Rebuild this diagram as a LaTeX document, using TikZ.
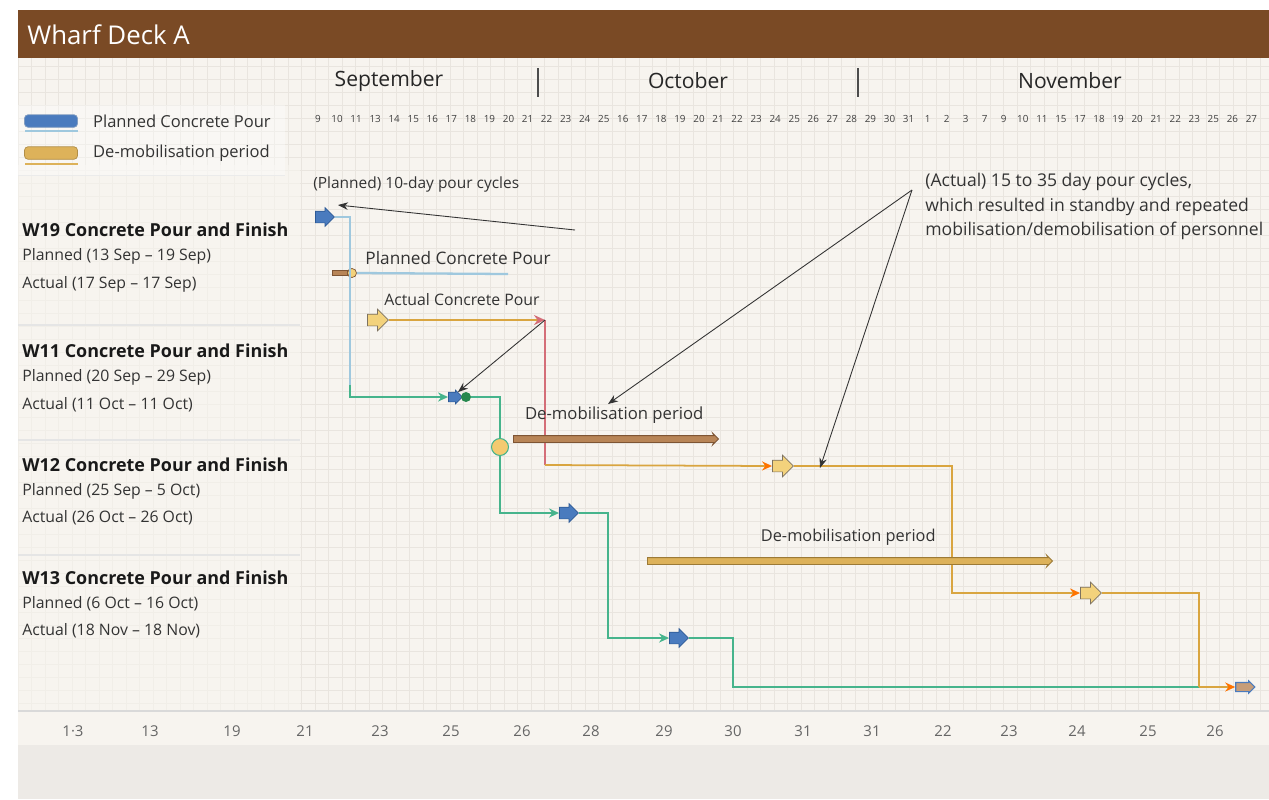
\documentclass[tikz,border=0pt]{standalone}
\usepackage{fontspec}
\setmainfont{Open Sans}
\usetikzlibrary{positioning,shapes.arrows,arrows.meta}

\definecolor{deckbrown}{HTML}{7A4A25}
\definecolor{paper}{HTML}{F7F4EF}
\definecolor{gridc}{HTML}{E9E5DF}
\definecolor{footc}{HTML}{EDEAE6}
\definecolor{planblue}{HTML}{4A7BBE}
\definecolor{planedge}{HTML}{2D5A96}
\definecolor{lightblue}{HTML}{9FC8DE}
\definecolor{tealc}{HTML}{46B48C}
\definecolor{goldc}{HTML}{D9A540}
\definecolor{actyellow}{HTML}{F3D27C}
\definecolor{actedge}{HTML}{7D7260}
\definecolor{redc}{HTML}{D46E78}
\definecolor{brownbar}{HTML}{B88557}
\definecolor{brownedge}{HTML}{7E5534}
\definecolor{goldbar}{HTML}{DDB25A}
\definecolor{goldedge}{HTML}{9C7A36}
\definecolor{textgrey}{HTML}{333333}

\begin{document}
\begin{tikzpicture}[x=0.02cm,y=-0.02cm,
  every node/.style={inner sep=0pt},
  bodytxt/.style={font=\fontsize{9}{11}\selectfont, text=textgrey},
  rowhead/.style={font=\bfseries\fontsize{10.2}{12}\selectfont, text=black!90, anchor=west},
  rowtxt/.style={bodytxt, anchor=west},
  legtxt/.style={rowtxt, font=\fontsize{9.4}{11}\selectfont},
  monthtxt/.style={font=\fontsize{12}{14}\selectfont, text=black!85},
  daynum/.style={font=\fontsize{5.6}{6}\selectfont, text=black!75},
  axisnum/.style={font=\fontsize{8.5}{10}\selectfont, text=black!60},
  planpour/.style={single arrow, draw=planedge, fill=planblue, line width=0.4pt,
    inner xsep=0pt, inner ysep=1.1mm, minimum height=3.8mm, single arrow head extend=0.7mm},
  actpour/.style={planpour, draw=actedge, fill=actyellow, minimum height=4.2mm, single arrow head extend=1mm},
  demobar/.style={single arrow, line width=0.5pt, inner ysep=0.6mm, inner xsep=0pt,
    single arrow head extend=0.45mm, single arrow head indent=0.2mm},
  blueline/.style={draw=lightblue, line width=1.3pt},
  tealline/.style={draw=tealc, line width=1.2pt},
  goldline/.style={draw=goldc, line width=1.2pt},
  callout/.style={draw=black!80, line width=0.5pt, -{Stealth[length=2mm,width=1.5mm]}}
]
\useasboundingbox (0,0) rectangle (1269,799);
\fill[white] (0,0) rectangle (1269,799);
\fill[paper] (18,10) rectangle (1269,745);
\fill[footc] (18,745) rectangle (1269,799);
% faint grid
\foreach \gx in {18,31.5,...,1269} \draw[gridc, line width=0.3pt] (\gx,58) -- (\gx,711);
\foreach \gy in {66,79,...,711} \draw[gridc, line width=0.3pt] (18,\gy) -- (1269,\gy);
\fill[paper, opacity=0.6] (18,165) rectangle (300,711);

% title bar and months
\fill[deckbrown] (18,10) rectangle (1269,58);
\node[anchor=west, text=white, font=\fontsize{14.7}{17}\selectfont] (title) at (27,35) {Wharf Deck A};
\node[monthtxt] (sept) at (389,81) {September};
\node[monthtxt] (oct) at (688,81) {October};
\node[monthtxt] (nov) at (1070,81) {November};
\draw[black!70, line width=0.8pt] (538,68) -- (538,97) (858,68) -- (858,97);
\foreach \d [count=\i from 0] in {9,10,11,13,14,15,16,17,18,19,20,21,22,23,24,25,16,17,18,19,20,21,22,23,24,25,26,27,28,29,30,31,1,2,3,7,9,10,11,15,17,18,19,20,21,22,23,25,26,27}
  \node[daynum] at (318+\i*19.05,119) {\d};

% legend
\fill[white, opacity=0.35] (18,105) rectangle (285,175);
\draw[black!8, line width=0.4pt] (18,175) -- (285,175);
\node[rounded corners=2pt, fill=planblue, draw=planedge!60, minimum width=10.6mm, minimum height=2.5mm] (legplan) at (51,121) {};
\draw[lightblue, line width=0.6pt] (25,131) -- (78,131);
\node[legtxt, right=3mm of legplan] (legplant) {Planned Concrete Pour};
\node[rounded corners=2pt, fill=goldbar, draw=goldbar!80!black, minimum width=10.6mm, minimum height=2.5mm] (legdemob) at (51,153) {};
\draw[goldbar, line width=0.6pt] (25,164) -- (78,164);
\node[legtxt, right=3mm of legdemob] (legdemobt) {De-mobilisation period};

% row labels
\node[rowhead] (w19) at (22,230) {W19 Concrete Pour and Finish};
\node[rowtxt] at (22,256) {Planned (13 Sep – 19 Sep)};
\node[rowtxt] at (22,284) {Actual (17 Sep – 17 Sep)};
\node[rowhead] (w11) at (22,351) {W11 Concrete Pour and Finish};
\node[rowtxt] at (22,377) {Planned (20 Sep – 29 Sep)};
\node[rowtxt] at (22,405) {Actual (11 Oct – 11 Oct)};
\node[rowhead] (w12) at (22,465) {W12 Concrete Pour and Finish};
\node[rowtxt] at (22,491) {Planned (25 Sep – 5 Oct)};
\node[rowtxt] at (22,518) {Actual (26 Oct – 26 Oct)};
\node[rowhead] (w13) at (22,578) {W13 Concrete Pour and Finish};
\node[rowtxt] at (22,604) {Planned (6 Oct – 16 Oct)};
\node[rowtxt] at (22,631) {Actual (18 Nov – 18 Nov)};
\draw[black!10, line width=0.6pt] (18,325) -- (300,325) (18,440) -- (300,440) (18,555) -- (300,555);
\draw[black!15, line width=0.6pt] (18,711) -- (1269,711);

% bottom axis
\foreach \lab/\ax in {1·3/73,13/150,19/232,21/305,23/380,25/451,26/522,28/591,29/664,30/733,31/803,31/872,22/943,23/1009,24/1077,25/1148,26/1215}
  \node[axisnum] at (\ax,731) {\lab};

% planned chain
\node[planpour] (w19p) at (322,217) {};
\node[fill=brownbar, draw=brownedge, line width=0.3pt, minimum width=3mm, minimum height=1.1mm] (w19b) at (340,273) {};
\node[circle, fill=actyellow, draw=brownedge, line width=0.4pt, minimum size=1.8mm] (w19c) at (352,273) {};
\coordinate (pend) at (508,274);
\draw[blueline] (w19c.east) -- (pend);
\node[bodytxt, font=\fontsize{9.8}{11}\selectfont] (plabel) at (458,258) {Planned Concrete Pour};
\coordinate (k1) at (350,385);
\draw[blueline] (w19p.east) -| (k1);
\node[planpour, inner ysep=0.9mm, minimum height=2.8mm, single arrow head extend=0.4mm] (w11p) at (453,397) {};
\node[circle, fill=tealc!80!green!70!black, minimum size=2mm] (w11g) at (466,397) {};
\draw[tealline, -{Stealth[length=2mm,width=1.8mm]}] (k1) |- (w11p.west);
\node[circle, fill=actyellow!90!orange, draw=tealc, line width=0.6pt, minimum size=3.4mm] (w12y) at (500,447) {};
\draw[tealline] (w11g.east) -| (w12y.north);
\node[planpour] (w12p) at (566,513) {};
\draw[tealline, -{Stealth[length=2mm,width=1.8mm]}] (w12y.south) |- (w12p.west);
\node[planpour] (w13p) at (676,638) {};
\coordinate (k3) at (608,575);
\draw[tealline, -{Stealth[length=2mm,width=1.8mm]}] (w12p.east) -| (k3) |- (w13p.west);
\coordinate (k4) at (733,660);
\coordinate (j4) at (1199,687);
\draw[tealline, line width=0.9pt] (w13p.east) -| (k4) |- (j4);

% actual chain
\node[actpour] (w11a) at (375,320) {};
\node[bodytxt] (alabel) at (462,300) {Actual Concrete Pour};
\coordinate (aend) at (545,320);
\draw[goldline, line width=1.6pt, -{Stealth[length=2.2mm,width=2mm,color=redc]}] (w11a.east) -- (aend);
\coordinate (k5) at (545,465);
\draw[draw=redc, line width=0.8pt] (aend) -- (k5);
\node[actpour] (w12a) at (780,466) {};
\draw[goldline, line width=1pt, -{Stealth[length=2mm,width=1.8mm,color=orange!90!red]}] (k5) -- (w12a.west);
\node[actpour] (w13a) at (1088,593) {};
\coordinate (k6) at (952,530);
\draw[goldline, -{Stealth[length=2mm,width=1.8mm,color=orange!90!red]}] (w12a.east) -| (k6) |- (w13a.west);
\node[single arrow, fill=brownbar!80, draw=planblue, line width=0.6pt, inner xsep=0pt, inner ysep=0.8mm,
  minimum height=3.8mm, single arrow head extend=0.3mm] (fin) at (1243,687) {};
\draw[goldline] (w13a.east) -| (j4);
\draw[goldline, line width=1pt, -{Stealth[length=2mm,width=1.8mm,color=orange!90!red]}] (j4) -- (fin.west);

% de-mobilisation bars
\node[demobar, fill=brownbar, draw=brownedge, minimum height=4.1cm, anchor=west] (dem1) at (513,439) {};
\node[bodytxt, font=\fontsize{9.5}{11}\selectfont, above=2.2mm of dem1] (dem1t) {De-mobilisation period};
\node[demobar, fill=goldbar, draw=goldedge, minimum height=8.1cm, anchor=west] (dem2) at (647,561) {};
\node[bodytxt, font=\fontsize{9.3}{11}\selectfont, above=2.2mm of dem2] (dem2t) {De-mobilisation period};

% callouts
\node[bodytxt, font=\fontsize{8.8}{10}\selectfont, anchor=west] (cplan) at (313,184) {(Planned) 10-day pour cycles};
\coordinate (cp1) at (575,230);
\coordinate (cp1e) at (338,205);
\draw[callout] (cp1) -- (cp1e);
\draw[callout] (aend) -- (w11p.north east);
\node[bodytxt, font=\fontsize{10}{14}\selectfont, anchor=north west, align=left] (cact) at (925,173)
  {(Actual) 15 to 35 day pour cycles,\\ which resulted in standby and repeated\\ mobilisation/demobilisation of personnel};
\coordinate (cq) at (912,190);
\coordinate (cqa) at (608,404);
\coordinate (cqb) at (820,468);
\draw[callout] (cq) -- (cqa);
\draw[callout] (cq) -- (cqb);
\end{tikzpicture}
\end{document}
